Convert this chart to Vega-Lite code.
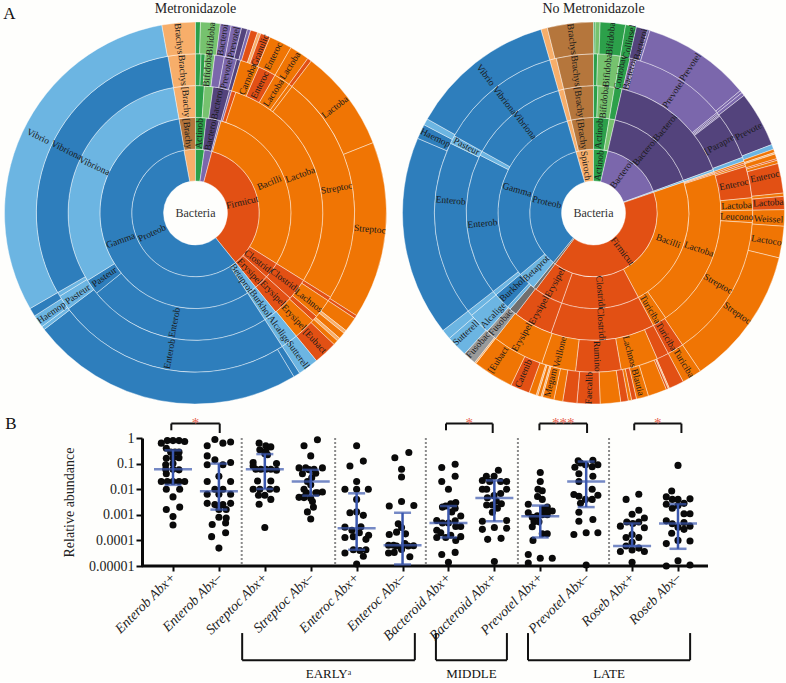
{"$schema":"https://vega.github.io/schema/vega-lite/v6.json","padding":{"left":3,"top":1,"right":0,"bottom":0},"background":"#fefefc","config":{"view":{"stroke":null},"font":"Liberation Serif","concat":{"spacing":0}},"title":{"text":"A","anchor":"start","frame":"bounds","font":"Liberation Serif","fontSize":17,"fontWeight":"normal","color":"#111","offset":-21},
"datasets":{
"arcs":[
{"p":"M","ring":1,"a":349.5,"b":360,"t":"lo"},{"p":"M","ring":1,"a":0,"b":8,"t":"dg"},{"p":"M","ring":1,"a":8,"b":15,"t":"pu"},{"p":"M","ring":1,"a":15,"b":141,"t":"re"},{"p":"M","ring":1,"a":141,"b":349.5,"t":"db"},
{"p":"M","ring":2,"a":350,"b":360,"t":"br"},{"p":"M","ring":2,"a":0,"b":6.5,"t":"dg"},{"p":"M","ring":2,"a":6.5,"b":14.5,"t":"dp"},{"p":"M","ring":2,"a":14.5,"b":15.5,"t":"pu"},{"p":"M","ring":2,"a":15.5,"b":122,"t":"or"},{"p":"M","ring":2,"a":122,"b":132,"t":"re"},{"p":"M","ring":2,"a":132,"b":141,"t":"re"},{"p":"M","ring":2,"a":141,"b":147,"t":"lb"},{"p":"M","ring":2,"a":147,"b":350,"t":"db"},
{"p":"M","ring":3,"a":350,"b":360,"t":"lo"},{"p":"M","ring":3,"a":0,"b":4,"t":"dg"},{"p":"M","ring":3,"a":4,"b":8,"t":"lg"},{"p":"M","ring":3,"a":8,"b":15.5,"t":"dp"},{"p":"M","ring":3,"a":15.5,"b":16.5,"t":"pu"},{"p":"M","ring":3,"a":16.5,"b":18.5,"t":"re"},{"p":"M","ring":3,"a":18.5,"b":122,"t":"or"},{"p":"M","ring":3,"a":122,"b":132,"t":"re"},{"p":"M","ring":3,"a":132,"b":141,"t":"re"},{"p":"M","ring":3,"a":141,"b":147,"t":"lb"},{"p":"M","ring":3,"a":147,"b":231,"t":"db"},{"p":"M","ring":3,"a":231,"b":238,"t":"db"},{"p":"M","ring":3,"a":238,"b":350,"t":"lb"},
{"p":"M","ring":4,"a":350,"b":360,"t":"lo"},{"p":"M","ring":4,"a":0,"b":2,"t":"dg"},{"p":"M","ring":4,"a":2,"b":3.5,"t":"dg"},{"p":"M","ring":4,"a":3.5,"b":7,"t":"lg"},{"p":"M","ring":4,"a":7,"b":10.5,"t":"pu"},{"p":"M","ring":4,"a":10.5,"b":15,"t":"pu"},{"p":"M","ring":4,"a":15,"b":16.5,"t":"dp"},{"p":"M","ring":4,"a":16.5,"b":23.5,"t":"or"},{"p":"M","ring":4,"a":23.5,"b":30,"t":"re"},{"p":"M","ring":4,"a":30,"b":36,"t":"or"},{"p":"M","ring":4,"a":36,"b":37.4,"t":"or"},{"p":"M","ring":4,"a":37.4,"b":122,"t":"or"},{"p":"M","ring":4,"a":122,"b":123.5,"t":"re"},{"p":"M","ring":4,"a":123.5,"b":130.5,"t":"or"},{"p":"M","ring":4,"a":130.5,"b":132.5,"t":"re"},{"p":"M","ring":4,"a":132.5,"b":140.7,"t":"or"},{"p":"M","ring":4,"a":140.7,"b":147,"t":"lb"},{"p":"M","ring":4,"a":147,"b":233,"t":"db"},{"p":"M","ring":4,"a":233,"b":238.5,"t":"lb"},{"p":"M","ring":4,"a":238.5,"b":240,"t":"lb"},{"p":"M","ring":4,"a":240,"b":350,"t":"db"},
{"p":"M","ring":5,"a":349.8,"b":360,"t":"lo"},{"p":"M","ring":5,"a":0,"b":1.5,"t":"dg"},{"p":"M","ring":5,"a":1.5,"b":7.5,"t":"lg"},{"p":"M","ring":5,"a":7.5,"b":10.8,"t":"pu"},{"p":"M","ring":5,"a":10.8,"b":14,"t":"pu"},{"p":"M","ring":5,"a":14,"b":15.8,"t":"dp"},{"p":"M","ring":5,"a":15.8,"b":16.8,"t":"pu"},{"p":"M","ring":5,"a":16.8,"b":19,"t":"re"},{"p":"M","ring":5,"a":19,"b":20,"t":"lo"},{"p":"M","ring":5,"a":20,"b":23,"t":"re"},{"p":"M","ring":5,"a":23,"b":30,"t":"or"},{"p":"M","ring":5,"a":30,"b":36,"t":"or"},{"p":"M","ring":5,"a":36,"b":37.3,"t":"re"},{"p":"M","ring":5,"a":37.3,"b":68.4,"t":"or"},{"p":"M","ring":5,"a":68.4,"b":122.5,"t":"or"},{"p":"M","ring":5,"a":122.5,"b":123.5,"t":"re"},{"p":"M","ring":5,"a":123.5,"b":128,"t":"or"},{"p":"M","ring":5,"a":128,"b":129,"t":"lo"},{"p":"M","ring":5,"a":129,"b":131,"t":"or"},{"p":"M","ring":5,"a":131,"b":132,"t":"lo"},{"p":"M","ring":5,"a":132,"b":133.5,"t":"or"},{"p":"M","ring":5,"a":133.5,"b":140.7,"t":"re"},{"p":"M","ring":5,"a":140.7,"b":147,"t":"lb"},{"p":"M","ring":5,"a":147,"b":149,"t":"db"},{"p":"M","ring":5,"a":149,"b":232.4,"t":"db"},{"p":"M","ring":5,"a":232.4,"b":233.5,"t":"lb"},{"p":"M","ring":5,"a":233.5,"b":237.4,"t":"lb"},{"p":"M","ring":5,"a":237.4,"b":240,"t":"db"},{"p":"M","ring":5,"a":240,"b":349.8,"t":"lb"},
{"p":"N","ring":1,"a":344,"b":360,"t":"lo"},{"p":"N","ring":1,"a":0,"b":13,"t":"dg"},{"p":"N","ring":1,"a":13,"b":70,"t":"pu"},{"p":"N","ring":1,"a":70,"b":71,"t":"lb"},{"p":"N","ring":1,"a":71,"b":217,"t":"re"},{"p":"N","ring":1,"a":217,"b":219,"t":"gy"},{"p":"N","ring":1,"a":219,"b":344,"t":"db"},
{"p":"N","ring":2,"a":344,"b":346.5,"t":"lo"},{"p":"N","ring":2,"a":346.5,"b":360,"t":"br"},{"p":"N","ring":2,"a":0,"b":9.5,"t":"dg"},{"p":"N","ring":2,"a":9.5,"b":13,"t":"lg"},{"p":"N","ring":2,"a":13,"b":70,"t":"dp"},{"p":"N","ring":2,"a":70,"b":71,"t":"lb"},{"p":"N","ring":2,"a":71,"b":152,"t":"or"},{"p":"N","ring":2,"a":152,"b":199.5,"t":"re"},{"p":"N","ring":2,"a":199.5,"b":217,"t":"re"},{"p":"N","ring":2,"a":217,"b":219,"t":"gy"},{"p":"N","ring":2,"a":219,"b":230,"t":"lb"},{"p":"N","ring":2,"a":230,"b":344,"t":"db"},
{"p":"N","ring":3,"a":344,"b":346.5,"t":"lo"},{"p":"N","ring":3,"a":346.5,"b":360,"t":"br"},{"p":"N","ring":3,"a":0,"b":2,"t":"dg"},{"p":"N","ring":3,"a":2,"b":9.5,"t":"lg"},{"p":"N","ring":3,"a":9.5,"b":13,"t":"dg"},{"p":"N","ring":3,"a":13,"b":70,"t":"dp"},{"p":"N","ring":3,"a":70,"b":71,"t":"lb"},{"p":"N","ring":3,"a":71,"b":71.7,"t":"lo"},{"p":"N","ring":3,"a":71.7,"b":72.2,"t":"re"},{"p":"N","ring":3,"a":72.2,"b":145.5,"t":"or"},{"p":"N","ring":3,"a":145.5,"b":152,"t":"or"},{"p":"N","ring":3,"a":152,"b":199.5,"t":"re"},{"p":"N","ring":3,"a":199.5,"b":217.5,"t":"re"},{"p":"N","ring":3,"a":217.5,"b":221,"t":"gy"},{"p":"N","ring":3,"a":221,"b":222.5,"t":"lb"},{"p":"N","ring":3,"a":222.5,"b":230,"t":"db"},{"p":"N","ring":3,"a":230,"b":232,"t":"lb"},{"p":"N","ring":3,"a":232,"b":297,"t":"db"},{"p":"N","ring":3,"a":297,"b":299,"t":"lb"},{"p":"N","ring":3,"a":299,"b":344,"t":"db"},
{"p":"N","ring":4,"a":344,"b":346.5,"t":"lo"},{"p":"N","ring":4,"a":346.5,"b":360,"t":"br"},{"p":"N","ring":4,"a":0,"b":1.5,"t":"dg"},{"p":"N","ring":4,"a":1.5,"b":9.7,"t":"lg"},{"p":"N","ring":4,"a":9.7,"b":13.3,"t":"dg"},{"p":"N","ring":4,"a":13.3,"b":15,"t":"pu"},{"p":"N","ring":4,"a":15,"b":15.5,"t":"dp"},{"p":"N","ring":4,"a":15.5,"b":50.9,"t":"pu"},{"p":"N","ring":4,"a":50.9,"b":51.5,"t":"pu"},{"p":"N","ring":4,"a":51.5,"b":52,"t":"dp"},{"p":"N","ring":4,"a":52,"b":52.5,"t":"pu"},{"p":"N","ring":4,"a":52.5,"b":69.5,"t":"dp"},{"p":"N","ring":4,"a":69.5,"b":71,"t":"lb"},{"p":"N","ring":4,"a":71,"b":71.7,"t":"or"},{"p":"N","ring":4,"a":71.7,"b":72.3,"t":"re"},{"p":"N","ring":4,"a":72.3,"b":73,"t":"or"},{"p":"N","ring":4,"a":73,"b":84.5,"t":"re"},{"p":"N","ring":4,"a":84.5,"b":89,"t":"or"},{"p":"N","ring":4,"a":89,"b":93.5,"t":"or"},{"p":"N","ring":4,"a":93.5,"b":146,"t":"or"},{"p":"N","ring":4,"a":146,"b":152,"t":"re"},{"p":"N","ring":4,"a":152,"b":156.4,"t":"re"},{"p":"N","ring":4,"a":156.4,"b":170,"t":"or"},{"p":"N","ring":4,"a":170,"b":186.5,"t":"re"},{"p":"N","ring":4,"a":186.5,"b":199,"t":"or"},{"p":"N","ring":4,"a":199,"b":218,"t":"or"},{"p":"N","ring":4,"a":218,"b":222,"t":"gl"},{"p":"N","ring":4,"a":222,"b":230,"t":"lb"},{"p":"N","ring":4,"a":230,"b":232,"t":"lb"},{"p":"N","ring":4,"a":232,"b":296,"t":"db"},{"p":"N","ring":4,"a":296,"b":299,"t":"lb"},{"p":"N","ring":4,"a":299,"b":344,"t":"db"},
{"p":"N","ring":5,"a":344,"b":346,"t":"lo"},{"p":"N","ring":5,"a":346,"b":360,"t":"br"},{"p":"N","ring":5,"a":0,"b":0.5,"t":"dg"},{"p":"N","ring":5,"a":0.5,"b":2,"t":"lg"},{"p":"N","ring":5,"a":2,"b":9.7,"t":"dg"},{"p":"N","ring":5,"a":9.7,"b":13,"t":"dg"},{"p":"N","ring":5,"a":13,"b":16.5,"t":"dp"},{"p":"N","ring":5,"a":16.5,"b":17.2,"t":"pu"},{"p":"N","ring":5,"a":17.2,"b":50.2,"t":"pu"},{"p":"N","ring":5,"a":50.2,"b":51,"t":"pu"},{"p":"N","ring":5,"a":51,"b":52,"t":"pu"},{"p":"N","ring":5,"a":52,"b":69,"t":"dp"},{"p":"N","ring":5,"a":69,"b":70.5,"t":"lb"},{"p":"N","ring":5,"a":70.5,"b":71.5,"t":"or"},{"p":"N","ring":5,"a":71.5,"b":72,"t":"lo"},{"p":"N","ring":5,"a":72,"b":73.5,"t":"or"},{"p":"N","ring":5,"a":73.5,"b":74,"t":"re"},{"p":"N","ring":5,"a":74,"b":75,"t":"or"},{"p":"N","ring":5,"a":75,"b":84,"t":"re"},{"p":"N","ring":5,"a":84,"b":85,"t":"or"},{"p":"N","ring":5,"a":85,"b":89,"t":"re"},{"p":"N","ring":5,"a":89,"b":94,"t":"or"},{"p":"N","ring":5,"a":94,"b":103.6,"t":"or"},{"p":"N","ring":5,"a":103.6,"b":146,"t":"or"},{"p":"N","ring":5,"a":146,"b":152,"t":"or"},{"p":"N","ring":5,"a":152,"b":156.6,"t":"re"},{"p":"N","ring":5,"a":156.6,"b":157,"t":"lo"},{"p":"N","ring":5,"a":157,"b":157.6,"t":"re"},{"p":"N","ring":5,"a":157.6,"b":163.3,"t":"or"},{"p":"N","ring":5,"a":163.3,"b":167,"t":"or"},{"p":"N","ring":5,"a":167,"b":168.5,"t":"re"},{"p":"N","ring":5,"a":168.5,"b":169.5,"t":"or"},{"p":"N","ring":5,"a":169.5,"b":171.8,"t":"re"},{"p":"N","ring":5,"a":171.8,"b":178,"t":"or"},{"p":"N","ring":5,"a":178,"b":185,"t":"re"},{"p":"N","ring":5,"a":185,"b":189.3,"t":"re"},{"p":"N","ring":5,"a":189.3,"b":192,"t":"or"},{"p":"N","ring":5,"a":192,"b":195.5,"t":"or"},{"p":"N","ring":5,"a":195.5,"b":196,"t":"lo"},{"p":"N","ring":5,"a":196,"b":197,"t":"or"},{"p":"N","ring":5,"a":197,"b":197.5,"t":"lo"},{"p":"N","ring":5,"a":197.5,"b":199.7,"t":"or"},{"p":"N","ring":5,"a":199.7,"b":205.6,"t":"re"},{"p":"N","ring":5,"a":205.6,"b":218,"t":"or"},{"p":"N","ring":5,"a":218,"b":218.5,"t":"lo"},{"p":"N","ring":5,"a":218.5,"b":222.5,"t":"gl"},{"p":"N","ring":5,"a":222.5,"b":229,"t":"lb"},{"p":"N","ring":5,"a":229,"b":232,"t":"lb"},{"p":"N","ring":5,"a":232,"b":293,"t":"db"},{"p":"N","ring":5,"a":293,"b":297.5,"t":"db"},{"p":"N","ring":5,"a":297.5,"b":299.5,"t":"lb"},{"p":"N","ring":5,"a":299.5,"b":344,"t":"db"}
],
"labels":[
{"p":"M","ring":5,"a":354.6,"t":"Brachys"},{"p":"M","ring":4,"a":354.9,"t":"Brachys"},{"p":"M","ring":3,"a":355.2,"t":"[Brachy"},{"p":"M","ring":2,"a":354.4,"t":"[Brachy"},{"p":"M","ring":5,"a":5,"t":"Bifidoba"},{"p":"M","ring":4,"a":4.8,"t":"Bifidoba"},{"p":"M","ring":2,"a":2.7,"t":"Actinob"},{"p":"M","ring":5,"a":8.9,"t":"Bacteroi"},{"p":"M","ring":5,"a":12.6,"t":"Prevotel"},{"p":"M","ring":4,"a":12.5,"t":"Prevotel"},{"p":"M","ring":3,"a":11.2,"t":"Bacteroi"},{"p":"M","ring":2,"a":10.9,"t":"Bacteroi"},{"p":"M","ring":5,"a":21.6,"t":"Granulic"},{"p":"M","ring":5,"a":26.4,"t":"Enteroc"},{"p":"M","ring":5,"a":32.7,"t":"Lactoba"},{"p":"M","ring":4,"a":21.3,"t":"Carnoba"},{"p":"M","ring":4,"a":26.7,"t":"Enteroc"},{"p":"M","ring":4,"a":33,"t":"Lactoba"},{"p":"M","ring":5,"a":52.8,"t":"Lactoba"},{"p":"M","ring":2,"a":67.7,"t":"Bacilli"},{"p":"M","ring":3,"a":69.9,"t":"Lactoba"},{"p":"M","ring":4,"a":80,"t":"Streptoc"},{"p":"M","ring":5,"a":95.3,"t":"Streptoc"},{"p":"M","ring":1,"a":77,"t":"Firmicut"},{"p":"M","ring":2,"a":127.7,"t":"Clostridi"},{"p":"M","ring":3,"a":127,"t":"Clostridi"},{"p":"M","ring":2,"a":137,"t":"Erysipel"},{"p":"M","ring":3,"a":136,"t":"Erysipel"},{"p":"M","ring":4,"a":127.7,"t":"Lachnos"},{"p":"M","ring":4,"a":136.6,"t":"Erysipel"},{"p":"M","ring":5,"a":137,"t":"[Eubact"},{"p":"M","ring":2,"a":144.6,"t":"Betaprot"},{"p":"M","ring":3,"a":144.2,"t":"Burkhol"},{"p":"M","ring":4,"a":144.2,"t":"Alcalige"},{"p":"M","ring":5,"a":144.1,"t":"Sutterell"},{"p":"M","ring":1,"a":245.3,"t":"Proteob"},{"p":"M","ring":2,"a":249.9,"t":"Gamma"},{"p":"M","ring":3,"a":190.9,"t":"Enterob"},{"p":"M","ring":4,"a":190.4,"t":"Enterob"},{"p":"M","ring":3,"a":235,"t":"Pasteur"},{"p":"M","ring":4,"a":235.4,"t":"Pasteur"},{"p":"M","ring":5,"a":235.4,"t":"Haemop"},{"p":"M","ring":3,"a":295,"t":"Vibriona"},{"p":"M","ring":4,"a":296,"t":"Vibriona"},{"p":"M","ring":5,"a":296,"t":"Vibrio"},
{"p":"N","ring":5,"a":322,"t":"Vibrio"},{"p":"N","ring":4,"a":321.8,"t":"Vibriona"},{"p":"N","ring":3,"a":322,"t":"Vibriona"},{"p":"N","ring":2,"a":287,"t":"Gamma"},{"p":"N","ring":1,"a":283,"t":"Proteob"},{"p":"N","ring":1,"a":36,"t":"Bacteroi"},{"p":"N","ring":2,"a":40,"t":"Bacteroi"},{"p":"N","ring":3,"a":40,"t":"Bacteroi"},{"p":"N","ring":4,"a":33.8,"t":"Prevotel"},{"p":"N","ring":5,"a":33.5,"t":"Prevotel"},{"p":"N","ring":4,"a":61.4,"t":"[Parapre"},{"p":"N","ring":5,"a":62.2,"t":"Prevote"},{"p":"N","ring":4,"a":14.5,"t":"Bacteroi"},{"p":"N","ring":5,"a":15.6,"t":"Bacteroi"},{"p":"N","ring":5,"a":11.8,"t":"Collinsel"},{"p":"N","ring":4,"a":10.7,"t":"Coriobac"},{"p":"N","ring":5,"a":5.6,"t":"Bifidoba"},{"p":"N","ring":4,"a":5.5,"t":"Bifidoba"},{"p":"N","ring":3,"a":5.4,"t":"Bifidoba"},{"p":"N","ring":2,"a":4,"t":"Actinob"},{"p":"N","ring":1,"a":6.7,"t":"Actinob"},{"p":"N","ring":1,"a":351,"t":"Spiroch"},{"p":"N","ring":2,"a":351.8,"t":"[Brachy"},{"p":"N","ring":3,"a":352.7,"t":"[Brachy"},{"p":"N","ring":4,"a":353,"t":"Brachys"},{"p":"N","ring":5,"a":353,"t":"Brachys"},{"p":"N","ring":5,"a":78,"t":"Enteroc"},{"p":"N","ring":4,"a":78.5,"t":"Enteroc"},{"p":"N","ring":5,"a":86.6,"t":"Lactoba"},{"p":"N","ring":4,"a":87,"t":"Lactoba"},{"p":"N","ring":5,"a":92,"t":"Weissel"},{"p":"N","ring":4,"a":91.5,"t":"Leucono"},{"p":"N","ring":5,"a":99,"t":"Lactoco"},{"p":"N","ring":5,"a":124.9,"t":"Streptoc"},{"p":"N","ring":4,"a":119.6,"t":"Streptoc"},{"p":"N","ring":3,"a":108.9,"t":"Lactoba"},{"p":"N","ring":2,"a":110.6,"t":"Bacilli"},{"p":"N","ring":1,"a":142.8,"t":"Firmicut"},{"p":"N","ring":2,"a":175,"t":"Clostridi"},{"p":"N","ring":3,"a":176,"t":"Clostridi"},{"p":"N","ring":4,"a":178.5,"t":"Rumino"},{"p":"N","ring":4,"a":165.4,"t":"Lachnos"},{"p":"N","ring":3,"a":149.5,"t":"Turiciba"},{"p":"N","ring":4,"a":149.5,"t":"Turiciba"},{"p":"N","ring":5,"a":149,"t":"Turiciba"},{"p":"N","ring":5,"a":165.3,"t":"Blautia"},{"p":"N","ring":5,"a":181.5,"t":"Faecalib"},{"p":"N","ring":5,"a":194.2,"t":"Megam"},{"p":"N","ring":5,"a":203.6,"t":"Catenib"},{"p":"N","ring":4,"a":193.6,"t":"Veillone"},{"p":"N","ring":2,"a":209,"t":"Erysipel"},{"p":"N","ring":3,"a":209.4,"t":"Erysipel"},{"p":"N","ring":4,"a":210,"t":"Erysipel"},{"p":"N","ring":5,"a":213,"t":"[Eubact"},{"p":"N","ring":4,"a":220.4,"t":"Fusobac"},{"p":"N","ring":5,"a":221.2,"t":"Fusobac"},{"p":"N","ring":2,"a":226,"t":"Betaprot"},{"p":"N","ring":3,"a":226.7,"t":"Burkhol"},{"p":"N","ring":4,"a":224.5,"t":"Alcalige"},{"p":"N","ring":5,"a":226.8,"t":"Sutterell"},{"p":"N","ring":3,"a":264.6,"t":"Enterob"},{"p":"N","ring":4,"a":275,"t":"Enterob"},{"p":"N","ring":4,"a":297.7,"t":"Pasteur"},{"p":"N","ring":5,"a":295.5,"t":"Haemop"}
],
"dots":[
{"g":"Enterob Abx+","o":-11.7,"v":0.63},{"g":"Enterob Abx+","o":-5.7,"v":0.79},{"g":"Enterob Abx+","o":0,"v":0.79},{"g":"Enterob Abx+","o":6,"v":0.79},{"g":"Enterob Abx+","o":11.7,"v":0.73},{"g":"Enterob Abx+","o":-6.7,"v":0.4},{"g":"Enterob Abx+","o":-2.3,"v":0.28},{"g":"Enterob Abx+","o":2,"v":0.28},{"g":"Enterob Abx+","o":6,"v":0.28},{"g":"Enterob Abx+","o":-6.7,"v":0.16},{"g":"Enterob Abx+","o":0,"v":0.17},{"g":"Enterob Abx+","o":6,"v":0.17},{"g":"Enterob Abx+","o":-7.3,"v":0.09},{"g":"Enterob Abx+","o":0,"v":0.1},{"g":"Enterob Abx+","o":0,"v":0.06},{"g":"Enterob Abx+","o":-7.3,"v":0.06},{"g":"Enterob Abx+","o":6,"v":0.057},{"g":"Enterob Abx+","o":-6.7,"v":0.04},{"g":"Enterob Abx+","o":-11.7,"v":0.02},{"g":"Enterob Abx+","o":-5.7,"v":0.02},{"g":"Enterob Abx+","o":0,"v":0.02},{"g":"Enterob Abx+","o":6,"v":0.02},{"g":"Enterob Abx+","o":11.7,"v":0.02},{"g":"Enterob Abx+","o":-6.7,"v":0.01},{"g":"Enterob Abx+","o":6.7,"v":0.01},{"g":"Enterob Abx+","o":0,"v":0.005},{"g":"Enterob Abx+","o":-6.7,"v":0.0016},{"g":"Enterob Abx+","o":6.7,"v":0.002},{"g":"Enterob Abx+","o":0,"v":0.00085},{"g":"Enterob Abx+","o":0,"v":0.0004},
{"g":"Enterob Abx–","o":-4,"v":0.88},{"g":"Enterob Abx–","o":11.7,"v":0.7},{"g":"Enterob Abx–","o":4,"v":0.63},{"g":"Enterob Abx–","o":-11.7,"v":0.5},{"g":"Enterob Abx–","o":-11.7,"v":0.2},{"g":"Enterob Abx–","o":-4,"v":0.14},{"g":"Enterob Abx–","o":11.7,"v":0.11},{"g":"Enterob Abx–","o":4,"v":0.09},{"g":"Enterob Abx–","o":-11.7,"v":0.09},{"g":"Enterob Abx–","o":0,"v":0.032},{"g":"Enterob Abx–","o":-11.7,"v":0.02},{"g":"Enterob Abx–","o":11.7,"v":0.02},{"g":"Enterob Abx–","o":4,"v":0.01},{"g":"Enterob Abx–","o":-4,"v":0.01},{"g":"Enterob Abx–","o":-11.7,"v":0.0063},{"g":"Enterob Abx–","o":11.7,"v":0.0063},{"g":"Enterob Abx–","o":0,"v":0.0063},{"g":"Enterob Abx–","o":-11.7,"v":0.0028},{"g":"Enterob Abx–","o":-4,"v":0.0025},{"g":"Enterob Abx–","o":4,"v":0.0025},{"g":"Enterob Abx–","o":11.7,"v":0.0028},{"g":"Enterob Abx–","o":0,"v":0.0016},{"g":"Enterob Abx–","o":7.3,"v":0.0016},{"g":"Enterob Abx–","o":0,"v":0.0008},{"g":"Enterob Abx–","o":7.3,"v":0.00075},{"g":"Enterob Abx–","o":-6.7,"v":0.00042},{"g":"Enterob Abx–","o":6.7,"v":0.00048},{"g":"Enterob Abx–","o":-7.3,"v":0.00014},{"g":"Enterob Abx–","o":6.7,"v":0.0002},{"g":"Enterob Abx–","o":0,"v":0.00005},
{"g":"Streptoc Abx+","o":-5.7,"v":0.63},{"g":"Streptoc Abx+","o":1,"v":0.5},{"g":"Streptoc Abx+","o":6,"v":0.45},{"g":"Streptoc Abx+","o":-5,"v":0.35},{"g":"Streptoc Abx+","o":1,"v":0.3},{"g":"Streptoc Abx+","o":0,"v":0.24},{"g":"Streptoc Abx+","o":2.7,"v":0.22},{"g":"Streptoc Abx+","o":-11.7,"v":0.11},{"g":"Streptoc Abx+","o":11.7,"v":0.1},{"g":"Streptoc Abx+","o":-9,"v":0.06},{"g":"Streptoc Abx+","o":-4,"v":0.06},{"g":"Streptoc Abx+","o":1,"v":0.06},{"g":"Streptoc Abx+","o":6,"v":0.06},{"g":"Streptoc Abx+","o":11.7,"v":0.055},{"g":"Streptoc Abx+","o":-11.7,"v":0.08},{"g":"Streptoc Abx+","o":-7.3,"v":0.021},{"g":"Streptoc Abx+","o":6,"v":0.021},{"g":"Streptoc Abx+","o":-11.7,"v":0.01},{"g":"Streptoc Abx+","o":-5,"v":0.01},{"g":"Streptoc Abx+","o":5,"v":0.01},{"g":"Streptoc Abx+","o":11.7,"v":0.01},{"g":"Streptoc Abx+","o":-6.3,"v":0.0058},{"g":"Streptoc Abx+","o":0,"v":0.0058},{"g":"Streptoc Abx+","o":6,"v":0.004},{"g":"Streptoc Abx+","o":-5.7,"v":0.0026},{"g":"Streptoc Abx+","o":0,"v":0.00032},
{"g":"Streptoc Abx–","o":6.7,"v":0.85},{"g":"Streptoc Abx–","o":-6.7,"v":0.5},{"g":"Streptoc Abx–","o":0,"v":0.2},{"g":"Streptoc Abx–","o":-11.7,"v":0.068},{"g":"Streptoc Abx–","o":-5,"v":0.068},{"g":"Streptoc Abx–","o":-1.7,"v":0.058},{"g":"Streptoc Abx–","o":3.3,"v":0.06},{"g":"Streptoc Abx–","o":11.7,"v":0.068},{"g":"Streptoc Abx–","o":-8.3,"v":0.04},{"g":"Streptoc Abx–","o":5,"v":0.042},{"g":"Streptoc Abx–","o":1,"v":0.028},{"g":"Streptoc Abx–","o":-3.3,"v":0.02},{"g":"Streptoc Abx–","o":-6.7,"v":0.01},{"g":"Streptoc Abx–","o":0,"v":0.015},{"g":"Streptoc Abx–","o":6.7,"v":0.0072},{"g":"Streptoc Abx–","o":11.7,"v":0.0078},{"g":"Streptoc Abx–","o":-11.7,"v":0.0048},{"g":"Streptoc Abx–","o":-6.7,"v":0.005},{"g":"Streptoc Abx–","o":0,"v":0.0044},{"g":"Streptoc Abx–","o":5,"v":0.0072},{"g":"Streptoc Abx–","o":-4.3,"v":0.0072},{"g":"Streptoc Abx–","o":1.7,"v":0.0033},{"g":"Streptoc Abx–","o":-3.3,"v":0.0013},{"g":"Streptoc Abx–","o":2.7,"v":0.002},{"g":"Streptoc Abx–","o":0,"v":0.00068},{"g":"Streptoc Abx–","o":-6.7,"v":0.0047},
{"g":"Enteroc Abx+","o":0,"v":0.5},{"g":"Enteroc Abx+","o":6.7,"v":0.125},{"g":"Enteroc Abx+","o":-6.7,"v":0.08},{"g":"Enteroc Abx+","o":0,"v":0.02},{"g":"Enteroc Abx+","o":-11.7,"v":0.01},{"g":"Enteroc Abx+","o":0,"v":0.01},{"g":"Enteroc Abx+","o":11.7,"v":0.01},{"g":"Enteroc Abx+","o":0,"v":0.004},{"g":"Enteroc Abx+","o":-6.7,"v":0.0012},{"g":"Enteroc Abx+","o":0,"v":0.0013},{"g":"Enteroc Abx+","o":6.7,"v":0.00095},{"g":"Enteroc Abx+","o":-11.7,"v":0.00033},{"g":"Enteroc Abx+","o":-4.7,"v":0.00025},{"g":"Enteroc Abx+","o":4.3,"v":0.00034},{"g":"Enteroc Abx+","o":-11.7,"v":0.00013},{"g":"Enteroc Abx+","o":-3.3,"v":0.00014},{"g":"Enteroc Abx+","o":12,"v":0.00016},{"g":"Enteroc Abx+","o":2.7,"v":0.0002},{"g":"Enteroc Abx+","o":9.3,"v":0.00011},{"g":"Enteroc Abx+","o":-11.7,"v":0.000032},{"g":"Enteroc Abx+","o":-3.3,"v":0.000043},{"g":"Enteroc Abx+","o":3.3,"v":0.00004},{"g":"Enteroc Abx+","o":9.3,"v":0.000043},{"g":"Enteroc Abx+","o":6.7,"v":0.000024},{"g":"Enteroc Abx+","o":0,"v":0.000012},
{"g":"Enteroc Abx–","o":-7.7,"v":0.17},{"g":"Enteroc Abx–","o":6.3,"v":0.27},{"g":"Enteroc Abx–","o":-1,"v":0.06},{"g":"Enteroc Abx–","o":-1,"v":0.03},{"g":"Enteroc Abx–","o":-1,"v":0.0033},{"g":"Enteroc Abx–","o":11.3,"v":0.0023},{"g":"Enteroc Abx–","o":-13.3,"v":0.0022},{"g":"Enteroc Abx–","o":-4.3,"v":0.00045},{"g":"Enteroc Abx–","o":-1,"v":0.00032},{"g":"Enteroc Abx–","o":-6,"v":0.00021},{"g":"Enteroc Abx–","o":3,"v":0.00018},{"g":"Enteroc Abx–","o":-13.3,"v":0.00017},{"g":"Enteroc Abx–","o":-14,"v":0.000065},{"g":"Enteroc Abx–","o":-9,"v":0.000065},{"g":"Enteroc Abx–","o":-6,"v":0.00006},{"g":"Enteroc Abx–","o":-1,"v":0.00005},{"g":"Enteroc Abx–","o":2.3,"v":0.000075},{"g":"Enteroc Abx–","o":5.7,"v":0.00006},{"g":"Enteroc Abx–","o":11,"v":0.000062},{"g":"Enteroc Abx–","o":-8.3,"v":0.000034},{"g":"Enteroc Abx–","o":-1,"v":0.000044},{"g":"Enteroc Abx–","o":7.3,"v":0.000023},{"g":"Enteroc Abx–","o":-14,"v":0.000032},
{"g":"Bacteroid Abx+","o":-6.7,"v":0.07},{"g":"Bacteroid Abx+","o":6.7,"v":0.095},{"g":"Bacteroid Abx+","o":-6.7,"v":0.02},{"g":"Bacteroid Abx+","o":6.7,"v":0.032},{"g":"Bacteroid Abx+","o":0,"v":0.01},{"g":"Bacteroid Abx+","o":2.3,"v":0.0027},{"g":"Bacteroid Abx+","o":7.3,"v":0.003},{"g":"Bacteroid Abx+","o":-6,"v":0.002},{"g":"Bacteroid Abx+","o":-2.7,"v":0.0022},{"g":"Bacteroid Abx+","o":6.7,"v":0.0018},{"g":"Bacteroid Abx+","o":3.3,"v":0.0013},{"g":"Bacteroid Abx+","o":12.3,"v":0.0009},{"g":"Bacteroid Abx+","o":-11.7,"v":0.0006},{"g":"Bacteroid Abx+","o":-6,"v":0.00048},{"g":"Bacteroid Abx+","o":0,"v":0.00048},{"g":"Bacteroid Abx+","o":6.7,"v":0.00058},{"g":"Bacteroid Abx+","o":12.3,"v":0.00035},{"g":"Bacteroid Abx+","o":7.3,"v":0.00035},{"g":"Bacteroid Abx+","o":-11.7,"v":0.00025},{"g":"Bacteroid Abx+","o":-7.7,"v":0.0002},{"g":"Bacteroid Abx+","o":-11.7,"v":0.00013},{"g":"Bacteroid Abx+","o":-2.7,"v":0.00013},{"g":"Bacteroid Abx+","o":2.3,"v":0.00016},{"g":"Bacteroid Abx+","o":7.3,"v":0.0001},{"g":"Bacteroid Abx+","o":12.3,"v":0.00014},{"g":"Bacteroid Abx+","o":-6.7,"v":0.000028},{"g":"Bacteroid Abx+","o":6.7,"v":0.000034},{"g":"Bacteroid Abx+","o":0,"v":0.000014},
{"g":"Bacteroid Abx+ ","o":4,"v":0.055},{"g":"Bacteroid Abx+ ","o":-8,"v":0.032},{"g":"Bacteroid Abx+ ","o":-0.3,"v":0.032},{"g":"Bacteroid Abx+ ","o":-12,"v":0.022},{"g":"Bacteroid Abx+ ","o":-4.7,"v":0.02},{"g":"Bacteroid Abx+ ","o":6.3,"v":0.02},{"g":"Bacteroid Abx+ ","o":12.3,"v":0.02},{"g":"Bacteroid Abx+ ","o":-12,"v":0.01},{"g":"Bacteroid Abx+ ","o":-7.7,"v":0.01},{"g":"Bacteroid Abx+ ","o":12.3,"v":0.01},{"g":"Bacteroid Abx+ ","o":6.3,"v":0.0068},{"g":"Bacteroid Abx+ ","o":-0.3,"v":0.0056},{"g":"Bacteroid Abx+ ","o":-7,"v":0.0046},{"g":"Bacteroid Abx+ ","o":2,"v":0.0034},{"g":"Bacteroid Abx+ ","o":-7.7,"v":0.0024},{"g":"Bacteroid Abx+ ","o":-2,"v":0.0024},{"g":"Bacteroid Abx+ ","o":7,"v":0.0027},{"g":"Bacteroid Abx+ ","o":3,"v":0.0018},{"g":"Bacteroid Abx+ ","o":-2,"v":0.00125},{"g":"Bacteroid Abx+ ","o":-12,"v":0.00056},{"g":"Bacteroid Abx+ ","o":12.3,"v":0.0006},{"g":"Bacteroid Abx+ ","o":-12,"v":0.00027},{"g":"Bacteroid Abx+ ","o":0,"v":0.00032},{"g":"Bacteroid Abx+ ","o":12.3,"v":0.0003},{"g":"Bacteroid Abx+ ","o":-6.7,"v":0.00011},{"g":"Bacteroid Abx+ ","o":6.7,"v":0.00012},{"g":"Bacteroid Abx+ ","o":0,"v":0.000015},
{"g":"Prevotel Abx+","o":0,"v":0.045},{"g":"Prevotel Abx+","o":0,"v":0.02},{"g":"Prevotel Abx+","o":-2.3,"v":0.01},{"g":"Prevotel Abx+","o":2,"v":0.0087},{"g":"Prevotel Abx+","o":-2.7,"v":0.0052},{"g":"Prevotel Abx+","o":2,"v":0.004},{"g":"Prevotel Abx+","o":-12,"v":0.0026},{"g":"Prevotel Abx+","o":7,"v":0.002},{"g":"Prevotel Abx+","o":-12,"v":0.0012},{"g":"Prevotel Abx+","o":12,"v":0.0014},{"g":"Prevotel Abx+","o":-8,"v":0.0008},{"g":"Prevotel Abx+","o":-3,"v":0.00092},{"g":"Prevotel Abx+","o":2,"v":0.001},{"g":"Prevotel Abx+","o":7,"v":0.001},{"g":"Prevotel Abx+","o":-6.3,"v":0.00053},{"g":"Prevotel Abx+","o":-1.3,"v":0.00053},{"g":"Prevotel Abx+","o":-8,"v":0.00034},{"g":"Prevotel Abx+","o":2,"v":0.00018},{"g":"Prevotel Abx+","o":7,"v":0.00018},{"g":"Prevotel Abx+","o":-7.3,"v":0.0001},{"g":"Prevotel Abx+","o":-12,"v":0.000028},{"g":"Prevotel Abx+","o":0,"v":0.00002},{"g":"Prevotel Abx+","o":12,"v":0.00002},{"g":"Prevotel Abx+","o":-12,"v":0.000013},{"g":"Prevotel Abx+","o":2.7,"v":0.0017},{"g":"Prevotel Abx+","o":7,"v":0.0015},
{"g":"Prevotel Abx–","o":-8,"v":0.13},{"g":"Prevotel Abx–","o":6.7,"v":0.135},{"g":"Prevotel Abx–","o":-11.3,"v":0.072},{"g":"Prevotel Abx–","o":-5.7,"v":0.105},{"g":"Prevotel Abx–","o":-0.7,"v":0.09},{"g":"Prevotel Abx–","o":6,"v":0.075},{"g":"Prevotel Abx–","o":11.7,"v":0.09},{"g":"Prevotel Abx–","o":-7.3,"v":0.04},{"g":"Prevotel Abx–","o":6.7,"v":0.032},{"g":"Prevotel Abx–","o":-7.3,"v":0.02},{"g":"Prevotel Abx–","o":6,"v":0.01},{"g":"Prevotel Abx–","o":-12.3,"v":0.0062},{"g":"Prevotel Abx–","o":-7.3,"v":0.0053},{"g":"Prevotel Abx–","o":11.7,"v":0.0058},{"g":"Prevotel Abx–","o":-0.7,"v":0.004},{"g":"Prevotel Abx–","o":6,"v":0.004},{"g":"Prevotel Abx–","o":-5.7,"v":0.0028},{"g":"Prevotel Abx–","o":-7.3,"v":0.00125},{"g":"Prevotel Abx–","o":6.7,"v":0.00066},{"g":"Prevotel Abx–","o":-7.3,"v":0.00056},{"g":"Prevotel Abx–","o":-12.3,"v":0.00017},{"g":"Prevotel Abx–","o":0,"v":0.0002},{"g":"Prevotel Abx–","o":11.7,"v":0.0002},{"g":"Prevotel Abx–","o":0,"v":0.000011},
{"g":"Roseb Abx+","o":-6,"v":0.004},{"g":"Roseb Abx+","o":6.7,"v":0.0063},{"g":"Roseb Abx+","o":6.7,"v":0.0015},{"g":"Roseb Abx+","o":0,"v":0.00105},{"g":"Roseb Abx+","o":12.3,"v":0.00075},{"g":"Roseb Abx+","o":-5.3,"v":0.00052},{"g":"Roseb Abx+","o":0.7,"v":0.00046},{"g":"Roseb Abx+","o":6.7,"v":0.00052},{"g":"Roseb Abx+","o":-11.7,"v":0.00036},{"g":"Roseb Abx+","o":12.3,"v":0.00031},{"g":"Roseb Abx+","o":-6,"v":0.00013},{"g":"Roseb Abx+","o":0,"v":0.00017},{"g":"Roseb Abx+","o":6.7,"v":0.00013},{"g":"Roseb Abx+","o":0,"v":0.000085},{"g":"Roseb Abx+","o":-6,"v":0.00006},{"g":"Roseb Abx+","o":0,"v":0.000042},{"g":"Roseb Abx+","o":6.7,"v":0.00005},{"g":"Roseb Abx+","o":-11.7,"v":0.000037},{"g":"Roseb Abx+","o":12.3,"v":0.000037},{"g":"Roseb Abx+","o":0,"v":0.000014},
{"g":"Roseb Abx–","o":0,"v":0.085},{"g":"Roseb Abx–","o":-6.3,"v":0.0085},{"g":"Roseb Abx–","o":-11.7,"v":0.005},{"g":"Roseb Abx–","o":-5.7,"v":0.004},{"g":"Roseb Abx–","o":0,"v":0.004},{"g":"Roseb Abx–","o":12,"v":0.0042},{"g":"Roseb Abx–","o":-11.7,"v":0.0026},{"g":"Roseb Abx–","o":-5.7,"v":0.0018},{"g":"Roseb Abx–","o":0,"v":0.0023},{"g":"Roseb Abx–","o":6,"v":0.0028},{"g":"Roseb Abx–","o":6,"v":0.0011},{"g":"Roseb Abx–","o":12,"v":0.0011},{"g":"Roseb Abx–","o":-11.7,"v":0.00058},{"g":"Roseb Abx–","o":6,"v":0.0005},{"g":"Roseb Abx–","o":-5.7,"v":0.00045},{"g":"Roseb Abx–","o":0,"v":0.00033},{"g":"Roseb Abx–","o":12,"v":0.00036},{"g":"Roseb Abx–","o":6,"v":0.00027},{"g":"Roseb Abx–","o":-6.3,"v":0.00019},{"g":"Roseb Abx–","o":0,"v":0.0001},{"g":"Roseb Abx–","o":12,"v":0.000095},{"g":"Roseb Abx–","o":-11.7,"v":0.000075},{"g":"Roseb Abx–","o":0,"v":0.000016},{"g":"Roseb Abx–","o":-11.7,"v":0.00001},{"g":"Roseb Abx–","o":12,"v":0.000011}
],
"stats":[
{"g":"Enterob Abx+","med":0.06,"hi":0.33,"lo":0.0148},{"g":"Enterob Abx–","med":0.0083,"hi":0.1,"lo":0.0016},{"g":"Streptoc Abx+","med":0.06,"hi":0.235,"lo":0.0102},{"g":"Streptoc Abx–","med":0.02,"hi":0.057,"lo":0.0056},{"g":"Enteroc Abx+","med":0.0003,"hi":0.0069,"lo":0.000043},{"g":"Enteroc Abx–","med":0.000065,"hi":0.0012,"lo":0.0000115},{"g":"Bacteroid Abx+","med":0.00048,"hi":0.0022,"lo":0.00013},{"g":"Bacteroid Abx+ ","med":0.0045,"hi":0.022,"lo":0.00056},{"g":"Prevotel Abx+","med":0.00087,"hi":0.0023,"lo":0.00013},{"g":"Prevotel Abx–","med":0.02,"hi":0.12,"lo":0.002},{"g":"Roseb Abx+","med":0.00006,"hi":0.00046,"lo":0.00006},{"g":"Roseb Abx–","med":0.00046,"hi":0.0026,"lo":0.000047}
],
"sig":[{"from":0.963,"to":2.02,"star":"*"},{"from":6.96,"to":7.98,"star":"*"},{"from":9.0,"to":10.04,"star":"***"},{"from":11.07,"to":12.1,"star":"*"}],
"periods":[{"from":2.51,"to":6.28,"label":"EARLYᵃ"},{"from":6.74,"to":8.29,"label":"MIDDLE"},{"from":8.75,"to":12.29,"label":"LATE"}],
"seps":[{"s":2.5},{"s":4.54},{"s":6.52},{"s":8.53},{"s":10.52}],
"baseline":[{"from":0.32,"to":12.68}]
},
"vconcat":[
{"hconcat":[
{"width":383,"height":382,"title":{"text":"Metronidazole","font":"Liberation Serif","fontSize":14,"fontWeight":"normal","color":"#222","offset":5},
"layer":[
{"data":{"name":"arcs"},"transform":[{"filter":"datum.p==='M'"},{"calculate":"datum.ring-1","as":"r0"}],"mark":{"type":"arc","stroke":"#ffffff","strokeWidth":0.6,"strokeOpacity":0.7},"encoding":{"theta":{"field":"a","type":"quantitative","stack":null,"scale":{"domain":[0,360]}},"theta2":{"field":"b"},"radius":{"field":"r0","type":"quantitative","scale":{"type":"linear","domain":[0,5],"range":[32,191],"zero":false,"nice":false}},"radius2":{"field":"ring"},"color":{"field":"t","type":"nominal","legend":null,"scale":{"domain":["re","or","lo","br","db","lb","dg","lg","pu","dp","gy","gl"],"range":["#e25014","#f07504","#f7ae6a","#b5763c","#2e7ebc","#6cb5e2","#2ca04a","#76c26e","#7b67ac","#53437c","#6f6f6f","#9a9a9a"]}}}},
{"data":{"name":"labels"},"transform":[{"filter":"datum.p==='M'"},{"calculate":"datum.ring-0.5","as":"rm"},{"calculate":"datum.a<180?datum.a-90:datum.a+90","as":"rot"}],"mark":{"type":"text","fontSize":9.5,"color":"#1a1a1a","align":"center","baseline":"middle"},"encoding":{"theta":{"field":"a","type":"quantitative","stack":null,"scale":{"domain":[0,360]}},"radius":{"field":"rm","type":"quantitative","scale":{"type":"linear","domain":[0,5],"range":[32,191],"zero":false,"nice":false}},"angle":{"field":"rot","type":"quantitative","scale":null},"text":{"field":"t"}}},
{"data":{"values":[{"t":"Bacteria"}]},"mark":{"type":"text","fontSize":12,"color":"#333"},"encoding":{"text":{"field":"t"}}}
]},
{"width":383,"height":382,"title":{"text":"No Metronidazole","font":"Liberation Serif","fontSize":14,"fontWeight":"normal","color":"#222","offset":5},
"layer":[
{"data":{"name":"arcs"},"transform":[{"filter":"datum.p==='N'"},{"calculate":"datum.ring-1","as":"r0"}],"mark":{"type":"arc","stroke":"#ffffff","strokeWidth":0.6,"strokeOpacity":0.7},"encoding":{"theta":{"field":"a","type":"quantitative","stack":null,"scale":{"domain":[0,360]}},"theta2":{"field":"b"},"radius":{"field":"r0","type":"quantitative","scale":{"type":"linear","domain":[0,5],"range":[32,191],"zero":false,"nice":false}},"radius2":{"field":"ring"},"color":{"field":"t","type":"nominal","legend":null,"scale":{"domain":["re","or","lo","br","db","lb","dg","lg","pu","dp","gy","gl"],"range":["#e25014","#f07504","#f7ae6a","#b5763c","#2e7ebc","#6cb5e2","#2ca04a","#76c26e","#7b67ac","#53437c","#6f6f6f","#9a9a9a"]}}}},
{"data":{"name":"labels"},"transform":[{"filter":"datum.p==='N'"},{"calculate":"datum.ring-0.5","as":"rm"},{"calculate":"datum.a<180?datum.a-90:datum.a+90","as":"rot"}],"mark":{"type":"text","fontSize":9.5,"color":"#1a1a1a","align":"center","baseline":"middle"},"encoding":{"theta":{"field":"a","type":"quantitative","stack":null,"scale":{"domain":[0,360]}},"radius":{"field":"rm","type":"quantitative","scale":{"type":"linear","domain":[0,5],"range":[32,191],"zero":false,"nice":false}},"angle":{"field":"rot","type":"quantitative","scale":null},"text":{"field":"t"}}},
{"data":{"values":[{"t":"Bacteria"}]},"mark":{"type":"text","fontSize":12,"color":"#333"},"encoding":{"text":{"field":"t"}}}
]}
],"spacing":13,"resolve":{"scale":{"color":"shared","theta":"independent","radius":"independent"}}},
{"width":706,"height":128,
"resolve":{"scale":{"x":"independent"}},
"layer":[
{"layer":[
{"data":{"name":"seps"},"mark":{"type":"rule","color":"#8a8a8a","strokeWidth":2,"strokeDash":[2,2]},"encoding":{"x":{"field":"s","type":"quantitative","axis":null,"scale":{"domain":[-2.69,12.724],"nice":false,"zero":false}}}},
{"data":{"name":"baseline"},"mark":{"type":"rule","color":"#0a0a0a","strokeWidth":3,"clip":false},"encoding":{"x":{"field":"from","type":"quantitative","axis":null},"x2":{"field":"to"},"y":{"datum":0.00001,"type":"quantitative"}}},
{"data":{"name":"sig"},"mark":{"type":"rule","color":"#111","strokeWidth":2,"clip":false},"encoding":{"x":{"field":"from","type":"quantitative","axis":null},"x2":{"field":"to"},"y":{"datum":3.66,"type":"quantitative","title":"Relative abundance","scale":{"type":"log","domain":[0.00001,1],"nice":false},"axis":{"values":[1,0.1,0.01,0.001,0.0001,0.00001],"format":".5~f","grid":false,"offset":-138,"labelFontSize":14,"labelColor":"#222","titleFontSize":14,"titleFontWeight":"normal","titleColor":"#222","domainColor":"#0a0a0a","domainWidth":3,"tickColor":"#0a0a0a","tickWidth":2,"tickSize":6,"titlePadding":12}}}},
{"data":{"name":"sig"},"mark":{"type":"rule","color":"#111","strokeWidth":2,"clip":false},"encoding":{"x":{"field":"from","type":"quantitative","axis":null},"y":{"datum":3.66,"type":"quantitative"},"y2":{"datum":2}}},
{"data":{"name":"sig"},"mark":{"type":"rule","color":"#111","strokeWidth":2,"clip":false},"encoding":{"x":{"field":"to","type":"quantitative","axis":null},"y":{"datum":3.66,"type":"quantitative"},"y2":{"datum":1.57}}},
{"data":{"name":"sig"},"transform":[{"calculate":"(datum.from+datum.to)/2","as":"mid"}],"mark":{"type":"text","color":"#e8604c","fontSize":15,"baseline":"middle"},"encoding":{"x":{"field":"mid","type":"quantitative","axis":null},"y":{"datum":3.9,"type":"quantitative"},"text":{"field":"star"}}},
{"data":{"name":"periods"},"mark":{"type":"rule","color":"#111","strokeWidth":2,"clip":false},"encoding":{"x":{"field":"from","type":"quantitative","axis":null},"x2":{"field":"to"},"y":{"datum":0.0000000021,"type":"quantitative"}}},
{"data":{"name":"periods"},"mark":{"type":"rule","color":"#111","strokeWidth":2,"clip":false},"encoding":{"x":{"field":"from","type":"quantitative","axis":null},"y":{"datum":0.000000024,"type":"quantitative"},"y2":{"datum":0.0000000021}}},
{"data":{"name":"periods"},"mark":{"type":"rule","color":"#111","strokeWidth":2,"clip":false},"encoding":{"x":{"field":"to","type":"quantitative","axis":null},"y":{"datum":0.000000024,"type":"quantitative"},"y2":{"datum":0.0000000021}}},
{"data":{"name":"periods"},"transform":[{"calculate":"(datum.from+datum.to)/2","as":"mid"}],"mark":{"type":"text","color":"#111","fontSize":13,"baseline":"middle"},"encoding":{"x":{"field":"mid","type":"quantitative","axis":null},"y":{"datum":0.0000000006,"type":"quantitative"},"text":{"field":"label"}}},
{"data":{"values":[{"p":-2.66,"t":"B"}]},"mark":{"type":"text","color":"#111","fontSize":17,"align":"left","baseline":"middle"},"encoding":{"x":{"field":"p","type":"quantitative","axis":null},"y":{"datum":3.4,"type":"quantitative"},"text":{"field":"t"}}}
]},
{"layer":[
{"data":{"name":"dots"},"mark":{"type":"point","filled":true,"color":"#0a0a0a","size":50,"opacity":1,"clip":false},"encoding":{"x":{"field":"g","type":"nominal","sort":null,"title":null,"scale":{"type":"point","padding":0,"range":[169,674],"domain":["Enterob Abx+","Enterob Abx–","Streptoc Abx+","Streptoc Abx–","Enteroc Abx+","Enteroc Abx–","Bacteroid Abx+","Bacteroid Abx+ ","Prevotel Abx+","Prevotel Abx–","Roseb Abx+","Roseb Abx–"]},"axis":{"labelAngle":-45,"labelAlign":"right","labelBaseline":"middle","labelFontStyle":"italic","labelFontSize":14,"labelColor":"#222","domain":false,"tickColor":"#0a0a0a","tickWidth":2,"tickSize":5,"labelPadding":4}},"xOffset":{"field":"o","type":"quantitative","scale":{"domain":[-20,20],"range":[-20,20]}},"y":{"field":"v","type":"quantitative","title":"Relative abundance"}}},
{"data":{"name":"stats"},"mark":{"type":"rule","color":"#3a57ae","strokeWidth":2.5},"encoding":{"x":{"field":"g","type":"nominal","sort":null},"y":{"field":"lo","type":"quantitative","title":"Relative abundance"},"y2":{"field":"hi"}}},
{"data":{"name":"stats"},"mark":{"type":"tick","orient":"horizontal","color":"#3a57ae","size":38,"thickness":2.5},"encoding":{"x":{"field":"g","type":"nominal","sort":null},"y":{"field":"med","type":"quantitative","title":"Relative abundance"}}},
{"data":{"name":"stats"},"mark":{"type":"tick","orient":"horizontal","color":"#3a57ae","size":17,"thickness":2.5},"encoding":{"x":{"field":"g","type":"nominal","sort":null},"y":{"field":"hi","type":"quantitative","title":"Relative abundance"}}},
{"data":{"name":"stats"},"mark":{"type":"tick","orient":"horizontal","color":"#3a57ae","size":17,"thickness":2.5},"encoding":{"x":{"field":"g","type":"nominal","sort":null},"y":{"field":"lo","type":"quantitative","title":"Relative abundance"}}}
]}
]}
],"spacing":9}
